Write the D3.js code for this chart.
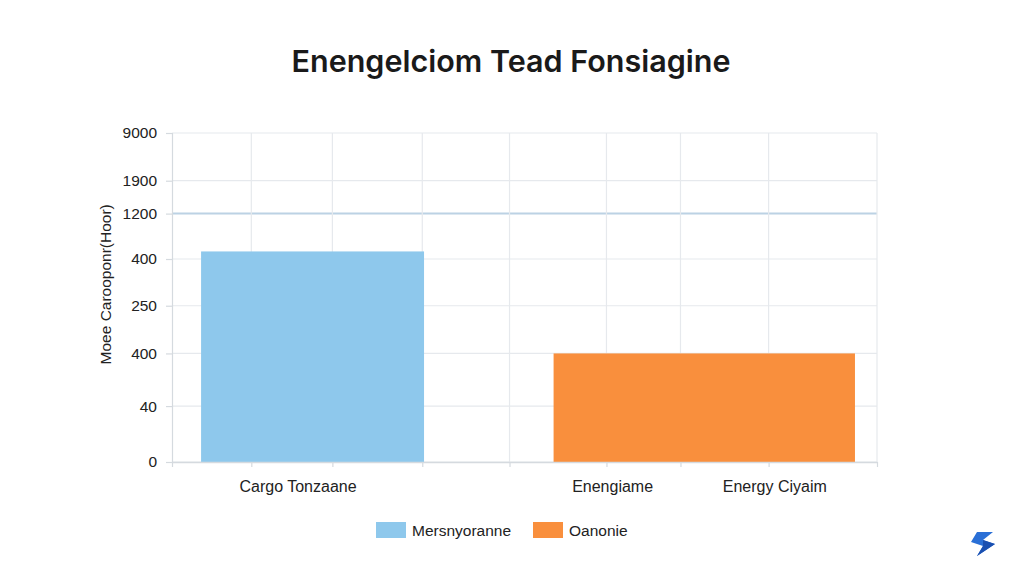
<!DOCTYPE html>
<html>
<head>
<meta charset="utf-8">
<script src="https://cdn.jsdelivr.net/npm/d3@7"></script>
<style>
  body { margin: 0; background: #ffffff; }
  svg { display: block; font-family: "Liberation Sans", Arial, sans-serif; }
</style>
</head>
<body>
<div id="chart"></div>
<script>
// chart data
var title = "Enengelciom Tead Fonsiagine";
var yAxisTitle = "Moee Carooponr(Hoor)";
var xLabels = ["Cargo Tonzaane", "Enengiame", "Energy Ciyaim"];
var seriesNames = ["Mersnyoranne", "Oanonie"];
var seriesColors = ["#8ec8ec", "#f98f3d"];
var seriesValues = [64, 33];   // in y-scale units (0..100)
var yTickLabels = ["0", "40", "400", "250", "400", "1200", "1900", "9000"];
var yTickValues = [0, 17, 33, 47.5, 61.7, 75.5, 85.5, 100];

// layout (x-scale units, 0..8 across the plot)
var xGrid = [0.9, 1.82, 2.84, 3.83, 4.93, 5.77, 6.77, 8];
var xLabelAt = [1.43, 5.0, 6.84];
var barSpan = [[0.33, 2.86], [4.33, 7.75]];
var highlightTick = 5;

var svgWidth = 1024;
var svgHeight = 585;
var margin = { top: 133, right: 147, bottom: 123, left: 172 };
var width = svgWidth - margin.left - margin.right;
var height = svgHeight - margin.top - margin.bottom;

var svg = d3.select("#chart")
  .append("svg")
  .attr("width", svgWidth)
  .attr("height", svgHeight);

svg.append("rect")
  .attr("width", svgWidth)
  .attr("height", svgHeight)
  .attr("fill", "#ffffff");

var chartGroup = svg.append("g")
  .attr("transform", `translate(${margin.left}, ${margin.top})`);

var xScale = d3.scaleLinear().domain([0, 8]).range([0, width]);
var yScale = d3.scaleLinear().domain([0, 100]).range([height, 0]);

// horizontal grid
chartGroup.append("g")
  .selectAll("line")
  .data(yTickValues)
  .enter()
  .append("line")
  .attr("x1", 0)
  .attr("x2", width)
  .attr("y1", d => yScale(d))
  .attr("y2", d => yScale(d))
  .attr("stroke", (d, i) => i === highlightTick ? "#bcd2e4" : "#e6e9ed")
  .attr("stroke-width", (d, i) => i === highlightTick ? 2 : 1.2);

// vertical grid
chartGroup.append("g")
  .selectAll("line")
  .data(xGrid)
  .enter()
  .append("line")
  .attr("x1", d => xScale(d))
  .attr("x2", d => xScale(d))
  .attr("y1", 0)
  .attr("y2", height)
  .attr("stroke", "#e6e9ed")
  .attr("stroke-width", 1.2);

// bars
chartGroup.selectAll("rect.bar")
  .data(seriesValues)
  .enter()
  .append("rect")
  .attr("class", "bar")
  .attr("x", (d, i) => xScale(barSpan[i][0]))
  .attr("width", (d, i) => xScale(barSpan[i][1]) - xScale(barSpan[i][0]))
  .attr("y", d => yScale(d))
  .attr("height", d => height - yScale(d))
  .attr("fill", (d, i) => seriesColors[i]);

// left axis
var leftAxis = d3.axisLeft(yScale)
  .tickValues(yTickValues)
  .tickFormat((d, i) => yTickLabels[i])
  .tickSize(6)
  .tickPadding(9);

var yAxisG = chartGroup.append("g").call(leftAxis);
yAxisG.select(".domain").attr("stroke", "#d5dadf").attr("stroke-width", 1.2);
yAxisG.selectAll(".tick line").attr("stroke", "#d5dadf").attr("stroke-width", 1.2);
yAxisG.selectAll(".tick text")
  .attr("fill", "#222")
  .style("font-size", "15.5px");

// bottom axis
var bottomAxis = d3.axisBottom(xScale)
  .tickValues([0].concat(xGrid))
  .tickFormat("")
  .tickSize(5)
  .tickSizeOuter(0);

var xAxisG = chartGroup.append("g")
  .attr("transform", `translate(0, ${height})`)
  .call(bottomAxis);
xAxisG.select(".domain").attr("stroke", "#d5dadf").attr("stroke-width", 1.5);
xAxisG.selectAll(".tick line").attr("stroke", "#d5dadf").attr("stroke-width", 1.2);

// category labels
chartGroup.selectAll("text.xlabel")
  .data(xLabels)
  .enter()
  .append("text")
  .attr("class", "xlabel")
  .attr("x", (d, i) => xScale(xLabelAt[i]))
  .attr("y", height + 30)
  .attr("text-anchor", "middle")
  .attr("fill", "#222")
  .style("font-size", "16px")
  .text(d => d);

// y axis title
chartGroup.append("text")
  .attr("transform", "rotate(-90)")
  .attr("x", 0 - (yScale(54)))
  .attr("y", 0 - 61)
  .attr("text-anchor", "middle")
  .attr("fill", "#222")
  .style("font-size", "15.5px")
  .text(yAxisTitle);

// title
svg.append("text")
  .attr("x", 511)
  .attr("y", 72)
  .attr("text-anchor", "middle")
  .attr("fill", "#1a1a1a")
  .style("font-family", "Inter, sans-serif")
  .style("font-weight", 600)
  .style("font-size", "30.5px")
  .text(title);

// legend
var legend = svg.append("g").attr("transform", "translate(376, 522)");
var legendX = [0, 157];
var legendItems = legend.selectAll("g")
  .data(seriesNames)
  .enter()
  .append("g")
  .attr("transform", (d, i) => `translate(${legendX[i]}, 0)`);

legendItems.append("rect")
  .attr("width", 30)
  .attr("height", 16)
  .attr("fill", (d, i) => seriesColors[i]);

legendItems.append("text")
  .attr("x", 36)
  .attr("y", 14)
  .attr("fill", "#222")
  .style("font-size", "15.5px")
  .text(d => d);

// logo mark
var logo = svg.append("g").attr("transform", "translate(971, 532)");
logo.append("path")
  .attr("d", "M6,0 L22,0 L12,8 L24,12 L6,24 L12,14 L0,10 Z")
  .attr("fill", "#2a6fd6");
logo.append("path")
  .attr("d", "M12,8 L24,12 L6,24 L12,14 Z")
  .attr("fill", "#1a4fb0");
</script>
</body>
</html>
